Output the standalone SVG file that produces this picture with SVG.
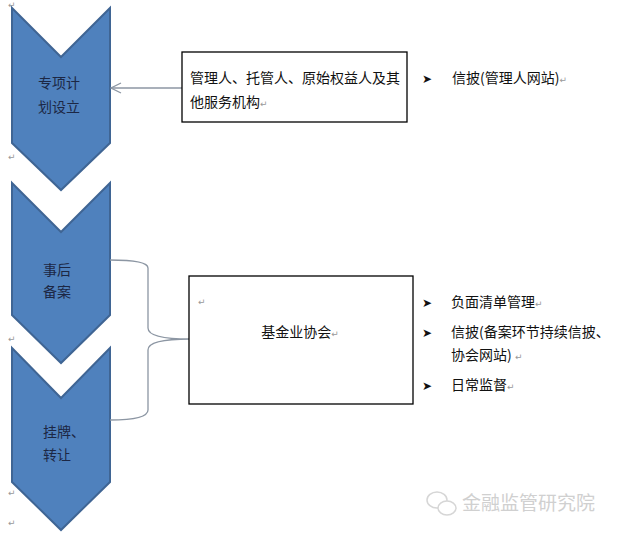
<svg xmlns="http://www.w3.org/2000/svg" width="619" height="536" viewBox="0 0 619 536">
<style>
.chev{fill:#4f81bd;stroke:#3f6594;stroke-width:2;stroke-linejoin:miter}
.ct{font-family:"Noto Sans CJK SC","Noto Sans",sans-serif;font-size:14px;fill:#1c2744}
.t{font-family:"Noto Sans CJK SC","Noto Sans",sans-serif;font-size:14px;fill:#111}
.box{fill:#fff;stroke:#000;stroke-width:1.3}
.pm{font-family:"DejaVu Sans",sans-serif;font-size:9px;fill:#999}
.bul{font-family:"DejaVu Sans",sans-serif;font-size:12px;fill:#111}
.conn{fill:none;stroke:#8c96a3;stroke-width:1.3}
.wm{font-family:"Noto Sans CJK SC",sans-serif;font-size:19px;fill:#d0d0d0}
</style>
<defs>
<marker id="open" markerWidth="12" markerHeight="12" refX="11" refY="6" orient="auto" markerUnits="userSpaceOnUse">
<path d="M1,1 L11,6 L1,11" fill="none" stroke="#8c96a3" stroke-width="1.3"/>
</marker>
</defs>
<rect width="619" height="536" fill="#fff"/>
<g id="paramarks">
<text class="pm" x="8" y="8">↵</text>
<text class="pm" x="8" y="160">↵</text>
<text class="pm" x="8" y="342">↵</text>
<text class="pm" x="8" y="496">↵</text>
<text class="pm" x="8" y="526">↵</text>
</g>
<g id="step1">
<polygon class="chev" points="12,8 61,57 110,8 110,143 61,190 12,143"/>
<text class="ct" x="38" y="88">专项计</text>
<text class="ct" x="38" y="112">划设立</text>
</g>
<g id="step2">
<polygon class="chev" points="12,183 61,232 110,183 110,315 61,363 12,315"/>
<text class="ct" x="43" y="275">事后</text>
<text class="ct" x="43" y="297">备案</text>
</g>
<g id="step3">
<polygon class="chev" points="12,348 61,398 110,348 110,482 61,530 12,482"/>
<text class="ct" x="43" y="437">挂牌、</text>
<text class="ct" x="43" y="460">转让</text>
</g>
<g id="connectors">
<path class="conn" d="M182,88 L111,88" marker-end="url(#open)"/>
<path class="conn" d="M110,260 Q148,260 148,268 L148,328 Q148,339 190,339 Q148,339 148,350 L148,410 Q148,420 110,420"/>
</g>
<g id="managers">
<rect class="box" x="182" y="52" width="225" height="70"/>
<text class="t" x="190" y="83">管理人、托管人、原始权益人及其</text>
<text class="t" x="190" y="107">他服务机构<tspan class="pm" dy="0">↵</tspan></text>
</g>
<g id="managers-notes">
<text class="bul" x="422" y="83">➤</text>
<text class="t" x="452" y="83">信披(管理人网站)<tspan class="pm">↵</tspan></text>
</g>
<g id="amac">
<rect class="box" x="189" y="276" width="224" height="128"/>
<text class="pm" x="198" y="305">↵</text>
<text class="t" x="300" y="337" text-anchor="middle">基金业协会<tspan class="pm">↵</tspan></text>
</g>
<g id="amac-notes">
<text class="bul" x="422" y="307">➤</text>
<text class="t" x="451" y="307">负面清单管理<tspan class="pm">↵</tspan></text>
<text class="bul" x="422" y="337">➤</text>
<text class="t" x="451" y="337">信披(备案环节持续信披、</text>
<text class="t" x="451" y="360">协会网站) <tspan class="pm">↵</tspan></text>
<text class="bul" x="422" y="390">➤</text>
<text class="t" x="451" y="390">日常监督<tspan class="pm">↵</tspan></text>
</g>
<g id="watermark">
<ellipse cx="437" cy="500" rx="10" ry="8" fill="none" stroke="#d6d6d6" stroke-width="1.5"/>
<ellipse cx="447" cy="508" rx="9" ry="7" fill="#fff" stroke="#d6d6d6" stroke-width="1.5"/>
<text class="wm" x="462" y="510">金融监管研究院</text>
</g>
</svg>
